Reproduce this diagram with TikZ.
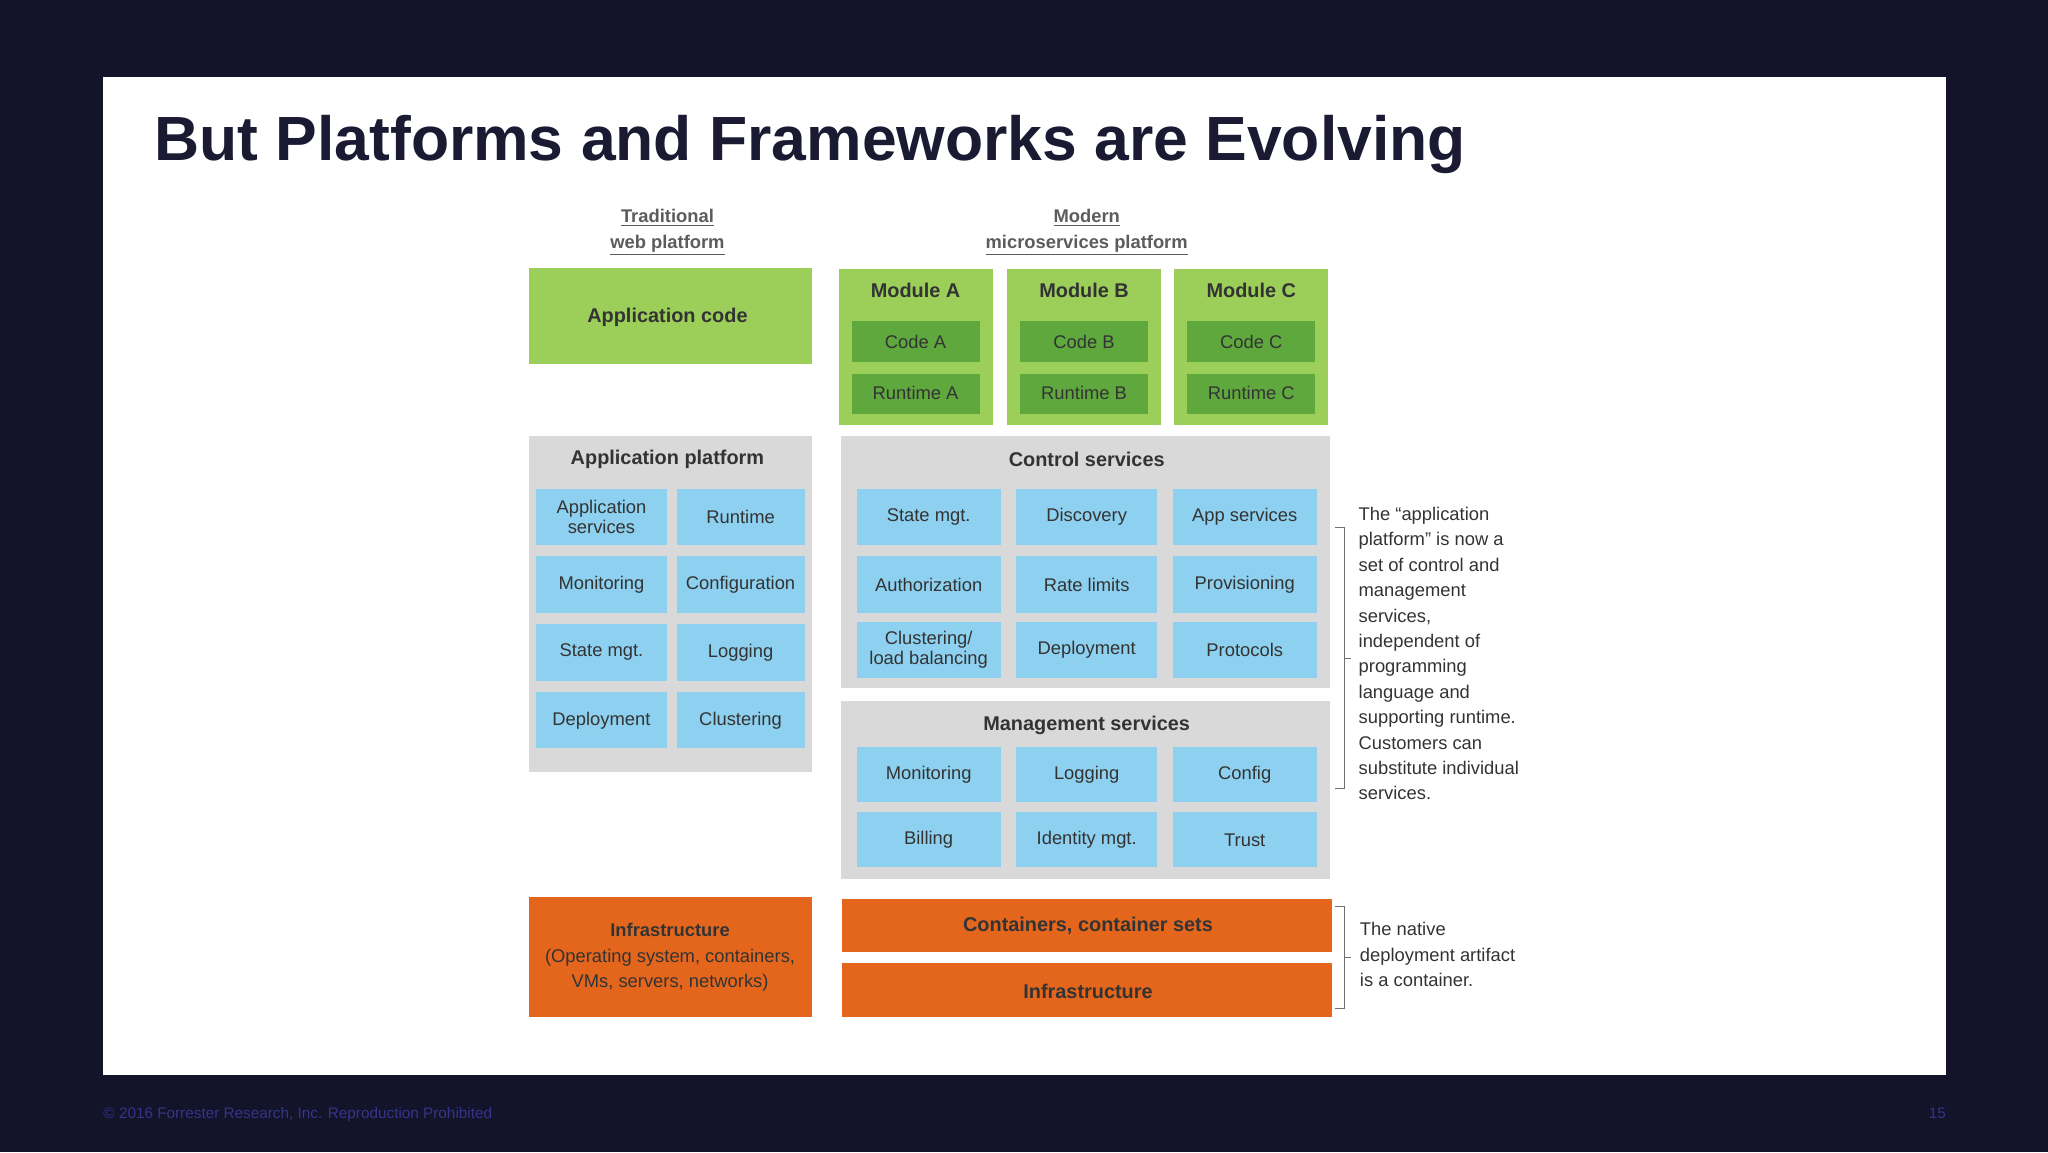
\documentclass[tikz,border=0pt]{standalone}
\usepackage{fontspec}
\setmainfont{Liberation Sans}
\definecolor{bg}{HTML}{13132A}
\definecolor{titlec}{HTML}{1A1A33}
\definecolor{lgreen}{HTML}{9CCF5A}
\definecolor{dgreen}{HTML}{5FA83E}
\definecolor{grayb}{HTML}{D9D9D9}
\definecolor{bluec}{HTML}{8DD0EF}
\definecolor{orangec}{HTML}{E4661C}
\definecolor{txt}{HTML}{333333}
\definecolor{foot}{HTML}{34348A}
\tikzset{
 box/.style={draw=none,inner sep=0pt},
 cell/.style={fill=bluec,text=txt,font=\fontsize{12}{13}\selectfont,align=center},
 hdr/.style={text=txt,font=\bfseries\fontsize{13}{14}\selectfont,align=center},
 note/.style={text=txt,font=\fontsize{12}{16.6}\selectfont,align=left,anchor=north west,inner sep=0pt},
}
\begin{document}
\begin{tikzpicture}[x=0.03cm,y=-0.03cm]
\fill[bg] (0,0) rectangle (1568,882);
\useasboundingbox (0,0) rectangle (1568,882);
\fill[white] (79,59) rectangle (1490,823);
\node[anchor=base west,inner sep=0pt,text=titlec,font=\bfseries\fontsize{40.8}{46}\selectfont] (title) at (118,123) {But Platforms and Frameworks are Evolving};
% headers
\node[hdr,font=\bfseries\fontsize{12}{17}\selectfont,text=txt!80] (h1) at (511,178) {\underline{Traditional}\\\underline{web platform}};
\node[hdr,font=\bfseries\fontsize{12}{17}\selectfont,text=txt!80] (h2) at (832,178) {\underline{Modern}\\\underline{microservices platform}};
% application code
\fill[lgreen] (405,205) rectangle (622,279);
\node[hdr] (appcode) at (511,243) {Application code};
% modules
\foreach \x/\l [count=\i] in {642/A,771/B,899/C}{
 \fill[lgreen] (\x,206) rectangle (\x+118,325);
 \node[hdr] (mod\l) at (\x+59,222) {Module \l};
 \fill[dgreen] (\x+10,246) rectangle (\x+108,277);
 \node[cell,fill=none,text=txt] (code\l) at (\x+59,262) {Code \l};
 \fill[dgreen] (\x+10,286) rectangle (\x+108,317);
 \node[cell,fill=none,text=txt] (rt\l) at (\x+59,301) {Runtime \l};
}
% application platform
\fill[grayb] (405,334) rectangle (622,591);
\node[hdr] (ap) at (511,352) {Application platform};
\foreach \y/\a/\b [count=\i] in {374/{Application\\services}/Runtime,426/Monitoring/Configuration,478/State mgt./Logging,530/Deployment/Clustering}{
 \fill[bluec] (410,\y) rectangle (511,\y+43);
 \node[cell,fill=none] (apa\i) at (460.5,\y+21.5) {\a};
 \fill[bluec] (518,\y) rectangle (616,\y+43);
 \node[cell,fill=none] (apb\i) at (567,\y+21.5) {\b};
}
% control services
\fill[grayb] (644,334) rectangle (1018,527);
\node[hdr] (cs) at (832,352) {Control services};
\foreach \y/\a/\b/\c [count=\i] in {374/State mgt./Discovery/App services,426/Authorization/Rate limits/Provisioning,476/{Clustering/\\load balancing}/Deployment/Protocols}{
 \fill[bluec] (656,\y) rectangle (766,\y+43);
 \node[cell,fill=none] (csa\i) at (711,\y+21.5) {\a};
 \fill[bluec] (778,\y) rectangle (886,\y+43);
 \node[cell,fill=none] (csb\i) at (832,\y+21.5) {\b};
 \fill[bluec] (898,\y) rectangle (1008,\y+43);
 \node[cell,fill=none] (csc\i) at (953,\y+21.5) {\c};
}
% management services
\fill[grayb] (644,537) rectangle (1018,673);
\node[hdr] (ms) at (832,555) {Management services};
\foreach \y/\a/\b/\c [count=\i] in {572/Monitoring/Logging/Config,622/Billing/Identity mgt./Trust}{
 \fill[bluec] (656,\y) rectangle (766,\y+42);
 \node[cell,fill=none] (msa\i) at (711,\y+21) {\a};
 \fill[bluec] (778,\y) rectangle (886,\y+42);
 \node[cell,fill=none] (msb\i) at (832,\y+21) {\b};
 \fill[bluec] (898,\y) rectangle (1008,\y+42);
 \node[cell,fill=none] (msc\i) at (953,\y+21) {\c};
}
% orange
\fill[orangec] (405,687) rectangle (622,779);
\node[hdr,font=\fontsize{12}{16.5}\selectfont] (infl) at (513,733) {\textbf{Infrastructure}\\(Operating system, containers,\\VMs, servers, networks)};
\fill[orangec] (645,688) rectangle (1020,729);
\node[hdr] (cont) at (833,709) {Containers, container sets};
\fill[orangec] (645,737) rectangle (1020,779);
\node[hdr] (infr) at (833,759) {Infrastructure};
% brackets
\draw[txt!70,line width=0.6pt] (1022,404) -- (1029,404) -- (1029,604) -- (1022,604) (1029,504) -- (1034,504);
\draw[txt!70,line width=0.6pt] (1022,694) -- (1029,694) -- (1029,772) -- (1022,772) (1029,733) -- (1034,733);
\node[note] (n1) at (1040,388) {The ``application\\platform'' is now a\\set of control and\\management\\services,\\independent of\\programming\\language and\\supporting runtime.\\Customers can\\substitute individual\\services.};
\node[note] (n2) at (1041,706) {The native\\deployment artifact\\is a container.};
% footer
\node[anchor=base west,inner sep=0pt,text=foot,font=\fontsize{10}{12}\selectfont] (ft) at (79,856) {\textcopyright{} 2016 Forrester Research, Inc. Reproduction Prohibited};
\node[anchor=base east,inner sep=0pt,text=foot,font=\fontsize{10}{12}\selectfont] (pg) at (1490,856) {15};
\end{tikzpicture}
\end{document}
